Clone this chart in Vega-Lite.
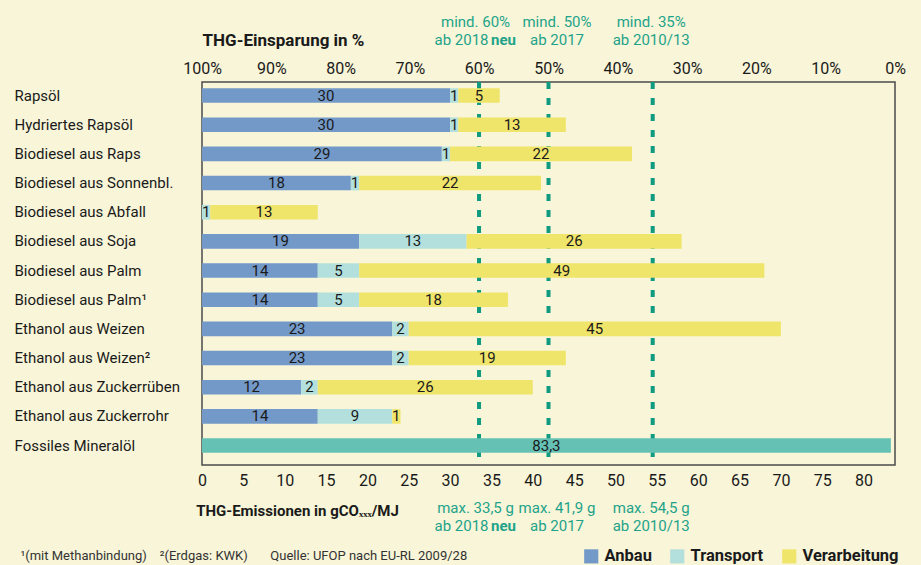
{
  "$schema": "https://vega.github.io/schema/vega-lite/v6.json",
  "width": 693,
  "height": 383,
  "autosize": {"type": "none"},
  "padding": {"left": 202, "top": 82, "right": 26, "bottom": 100},
  "background": "#f8f5d8",
  "config": {
    "font": "Roboto",
    "view": {"stroke": "#4a4a4a", "strokeWidth": 1.5},
    "axis": {"grid": false, "ticks": false, "domain": false, "labelFont": "Roboto", "titleFont": "Roboto", "labelColor": "#1a1a1a", "titleColor": "#1a1a1a", "labelOverlap": false, "labelFlush": false, "labelBound": false}
  },
  "datasets": {
    "bars": [
      {"cat": "Rapsöl", "part": "Anbau", "value": 30},
      {"cat": "Rapsöl", "part": "Transport", "value": 1},
      {"cat": "Rapsöl", "part": "Verarbeitung", "value": 5},
      {"cat": "Hydriertes Rapsöl", "part": "Anbau", "value": 30},
      {"cat": "Hydriertes Rapsöl", "part": "Transport", "value": 1},
      {"cat": "Hydriertes Rapsöl", "part": "Verarbeitung", "value": 13},
      {"cat": "Biodiesel aus Raps", "part": "Anbau", "value": 29},
      {"cat": "Biodiesel aus Raps", "part": "Transport", "value": 1},
      {"cat": "Biodiesel aus Raps", "part": "Verarbeitung", "value": 22},
      {"cat": "Biodiesel aus Sonnenbl.", "part": "Anbau", "value": 18},
      {"cat": "Biodiesel aus Sonnenbl.", "part": "Transport", "value": 1},
      {"cat": "Biodiesel aus Sonnenbl.", "part": "Verarbeitung", "value": 22},
      {"cat": "Biodiesel aus Abfall", "part": "Transport", "value": 1},
      {"cat": "Biodiesel aus Abfall", "part": "Verarbeitung", "value": 13},
      {"cat": "Biodiesel aus Soja", "part": "Anbau", "value": 19},
      {"cat": "Biodiesel aus Soja", "part": "Transport", "value": 13},
      {"cat": "Biodiesel aus Soja", "part": "Verarbeitung", "value": 26},
      {"cat": "Biodiesel aus Palm", "part": "Anbau", "value": 14},
      {"cat": "Biodiesel aus Palm", "part": "Transport", "value": 5},
      {"cat": "Biodiesel aus Palm", "part": "Verarbeitung", "value": 49},
      {"cat": "Biodiesel aus Palm¹", "part": "Anbau", "value": 14},
      {"cat": "Biodiesel aus Palm¹", "part": "Transport", "value": 5},
      {"cat": "Biodiesel aus Palm¹", "part": "Verarbeitung", "value": 18},
      {"cat": "Ethanol aus Weizen", "part": "Anbau", "value": 23},
      {"cat": "Ethanol aus Weizen", "part": "Transport", "value": 2},
      {"cat": "Ethanol aus Weizen", "part": "Verarbeitung", "value": 45},
      {"cat": "Ethanol aus Weizen²", "part": "Anbau", "value": 23},
      {"cat": "Ethanol aus Weizen²", "part": "Transport", "value": 2},
      {"cat": "Ethanol aus Weizen²", "part": "Verarbeitung", "value": 19},
      {"cat": "Ethanol aus Zuckerrüben", "part": "Anbau", "value": 12},
      {"cat": "Ethanol aus Zuckerrüben", "part": "Transport", "value": 2},
      {"cat": "Ethanol aus Zuckerrüben", "part": "Verarbeitung", "value": 26},
      {"cat": "Ethanol aus Zuckerrohr", "part": "Anbau", "value": 14},
      {"cat": "Ethanol aus Zuckerrohr", "part": "Transport", "value": 9},
      {"cat": "Ethanol aus Zuckerrohr", "part": "Verarbeitung", "value": 1},
      {"cat": "Fossiles Mineralöl", "part": "Fossil", "value": 83.3}
    ],
    "lines": [{"v": 33.5}, {"v": 41.9}, {"v": 54.5}],
    "neu": [{"v": 33.5}]
  },
  "layer": [
    {
      "data": {"name": "lines"},
      "mark": {"type": "rule", "stroke": "#109a80", "strokeWidth": 4, "strokeDash": [7, 9]},
      "encoding": {
        "x": {"field": "v", "type": "quantitative",
          "scale": {"domain": [0, 83.8], "nice": false, "zero": false},
          "axis": {"orient": "top", "values": [0, 8.38, 16.76, 25.14, 33.52, 41.9, 50.28, 58.66, 67.04, 75.42, 83.8],
            "labelExpr": "round(abs(100 - datum.value / 0.838)) + '%'",
            "labelFontSize": 16, "labelPadding": 6,
            "title": "THG-Einsparung in %", "titleFontSize": 17, "titleFontWeight": "bold",
            "titleX": 81, "titleY": -42, "titleAlign": "center", "titleBaseline": "middle", "titleAngle": 0}}
      }
    },
    {
      "data": {"name": "bars"},
      "transform": [{"stack": "value", "groupby": ["cat"], "sort": [{"field": "part"}], "as": ["x0", "x1"]}],
      "mark": {"type": "bar", "opacity": 1, "fillOpacity": 1},
      "encoding": {
        "y": {"field": "cat", "type": "nominal",
          "sort": ["Rapsöl", "Hydriertes Rapsöl", "Biodiesel aus Raps", "Biodiesel aus Sonnenbl.", "Biodiesel aus Abfall", "Biodiesel aus Soja", "Biodiesel aus Palm", "Biodiesel aus Palm¹", "Ethanol aus Weizen", "Ethanol aus Weizen²", "Ethanol aus Zuckerrüben", "Ethanol aus Zuckerrohr", "Fossiles Mineralöl"],
          "scale": {"paddingInner": 0.5, "paddingOuter": 0.315, "align": 0.34},
          "axis": {"title": null, "labelAlign": "left", "labelPadding": 188, "labelFontSize": 15, "labelLimit": 0, "labelColor": "#1a1a1a"}},
        "x": {"field": "x0", "type": "quantitative",
          "scale": {"domain": [0, 83.8], "nice": false, "zero": false},
          "axis": {"orient": "bottom", "values": [0, 5, 10, 15, 20, 25, 30, 35, 40, 45, 50, 55, 60, 65, 70, 75, 80],
            "labelFontSize": 16, "labelPadding": 7,
            "title": "THG-Emissionen in gCOₓₓₓ/MJ", "titleFontSize": 15, "titleFontWeight": "bold",
            "titleX": 95, "titleY": 45, "titleAlign": "center", "titleBaseline": "middle"}},
        "x2": {"field": "x1"},
        "color": {"field": "part", "type": "nominal",
          "scale": {"domain": ["Anbau", "Transport", "Verarbeitung", "Fossil"], "range": ["#7399c9", "#b3e0dc", "#f0e56b", "#66c1b5"]},
          "legend": {"values": ["Anbau", "Transport", "Verarbeitung"], "title": null, "orient": "none", "legendX": 381, "legendY": 466,
            "direction": "horizontal", "symbolType": "square", "symbolSize": 200, "symbolStrokeWidth": 0, "symbolOpacity": 1,
            "labelFontSize": 16.5, "labelFontWeight": "bold", "labelColor": "#1a1a1a", "labelFont": "Roboto", "columnPadding": 17, "labelOffset": 5}}
      }
    },
    {
      "data": {"name": "bars"},
      "transform": [
        {"stack": "value", "groupby": ["cat"], "sort": [{"field": "part"}], "as": ["x0", "x1"]},
        {"calculate": "(datum.x0 + datum.x1) / 2", "as": "mid"},
        {"calculate": "replace(toString(datum.value), '.', ',')", "as": "lbl"}
      ],
      "mark": {"type": "text", "fontSize": 15, "color": "#1a1a1a", "align": "center", "baseline": "middle"},
      "encoding": {
        "y": {"field": "cat", "type": "nominal",
          "sort": ["Rapsöl", "Hydriertes Rapsöl", "Biodiesel aus Raps", "Biodiesel aus Sonnenbl.", "Biodiesel aus Abfall", "Biodiesel aus Soja", "Biodiesel aus Palm", "Biodiesel aus Palm¹", "Ethanol aus Weizen", "Ethanol aus Weizen²", "Ethanol aus Zuckerrüben", "Ethanol aus Zuckerrohr", "Fossiles Mineralöl"]},
        "x": {"field": "mid", "type": "quantitative", "axis": null},
        "text": {"field": "lbl"}
      }
    },
    {
      "data": {"name": "lines"},
      "mark": {"type": "rule", "opacity": 0},
      "encoding": {
        "x": {"field": "v", "type": "quantitative",
          "axis": {"orient": "top", "values": [33.5, 41.9, 54.5], "title": null,
            "labelExpr": "datum.value == 33.5 ? 'mind. 60%' : datum.value == 41.9 ? 'mind. 50%' : 'mind. 35%'",
            "labelOffset": {"expr": "datum.value == 33.5 ? -4 : datum.value == 41.9 ? 8 : -2"},
            "labelFontSize": 15, "labelColor": "#1ea38a", "labelPadding": 53}}
      }
    },
    {
      "data": {"name": "lines"},
      "mark": {"type": "rule", "opacity": 0},
      "encoding": {
        "x": {"field": "v", "type": "quantitative",
          "axis": {"orient": "top", "values": [33.5, 41.9, 54.5], "title": null,
            "labelExpr": "datum.value == 33.5 ? 'ab 2018' : datum.value == 41.9 ? 'ab 2017' : 'ab 2010/13'",
            "labelOffset": {"expr": "datum.value == 33.5 ? -18 : datum.value == 41.9 ? 8 : -2"},
            "labelFontSize": 15, "labelColor": "#1ea38a", "labelPadding": 35}}
      }
    },
    {
      "data": {"name": "neu"},
      "mark": {"type": "rule", "opacity": 0},
      "encoding": {
        "x": {"field": "v", "type": "quantitative",
          "axis": {"orient": "top", "values": [33.5], "title": null, "labelExpr": "'neu'", "labelOffset": 24,
            "labelFontSize": 15, "labelFontWeight": "bold", "labelColor": "#1ea38a", "labelPadding": 35}}
      }
    },
    {
      "data": {"name": "lines"},
      "mark": {"type": "rule", "opacity": 0},
      "encoding": {
        "x": {"field": "v", "type": "quantitative",
          "axis": {"orient": "bottom", "values": [33.5, 41.9, 54.5], "title": null,
            "labelExpr": "datum.value == 33.5 ? 'max. 33,5 g' : datum.value == 41.9 ? 'max. 41,9 g' : 'max. 54,5 g'",
            "labelOffset": {"expr": "datum.value == 33.5 ? -4 : datum.value == 41.9 ? 8 : -2"},
            "labelFontSize": 15, "labelColor": "#1ea38a", "labelPadding": 35}}
      }
    },
    {
      "data": {"name": "lines"},
      "mark": {"type": "rule", "opacity": 0},
      "encoding": {
        "x": {"field": "v", "type": "quantitative",
          "axis": {"orient": "bottom", "values": [33.5, 41.9, 54.5], "title": null,
            "labelExpr": "datum.value == 33.5 ? 'ab 2018' : datum.value == 41.9 ? 'ab 2017' : 'ab 2010/13'",
            "labelOffset": {"expr": "datum.value == 33.5 ? -18 : datum.value == 41.9 ? 8 : -2"},
            "labelFontSize": 15, "labelColor": "#1ea38a", "labelPadding": 53}}
      }
    },
    {
      "data": {"name": "neu"},
      "mark": {"type": "rule", "opacity": 0},
      "encoding": {
        "x": {"field": "v", "type": "quantitative",
          "axis": {"orient": "bottom", "values": [33.5], "labelExpr": "'neu'", "labelOffset": 24,
            "labelFontSize": 15, "labelFontWeight": "bold", "labelColor": "#1ea38a", "labelPadding": 53,
            "title": "¹(mit Methanbindung)\u00a0\u00a0\u00a0\u00a0²(Erdgas: KWK)\u00a0\u00a0\u00a0\u00a0\u00a0\u00a0\u00a0Quelle: UFOP nach EU-RL 2009/28",
            "titleFontSize": 13, "titleFontWeight": "normal", "titleColor": "#333333",
            "titleX": -182, "titleY": 90, "titleAlign": "left", "titleBaseline": "middle", "titleLimit": 0}}
      }
    }
  ],
  "resolve": {"axis": {"x": "independent"}}
}
